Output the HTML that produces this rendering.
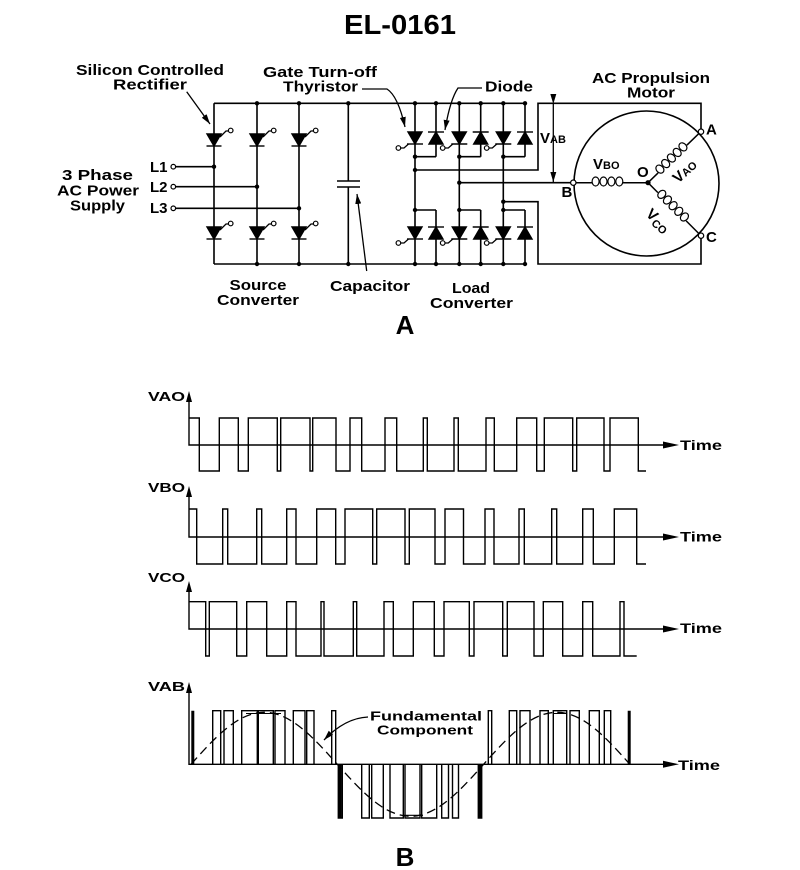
<!DOCTYPE html>
<html><head><meta charset="utf-8"><style>
html,body{margin:0;padding:0;background:#fff;}
svg{display:block;}
text{font-family:"Liberation Sans",Arial,sans-serif;font-weight:bold;fill:#000;}
</style></head><body>
<svg width="800" height="870" viewBox="0 0 800 870" xmlns="http://www.w3.org/2000/svg">
<defs>
<marker id="ah" viewBox="0 0 10 6" refX="10" refY="3" markerWidth="10" markerHeight="6" markerUnits="userSpaceOnUse" orient="auto"><path d="M0,0 L10,3 L0,6 z" fill="#000"/></marker>
</defs>
<rect width="800" height="870" fill="#fff"/>

<!-- Title -->
<text x="400" y="34" font-size="28" text-anchor="middle" textLength="112" lengthAdjust="spacingAndGlyphs">EL-0161</text>

<!-- ===== Circuit ===== -->
<g stroke="#000" stroke-width="1.6" fill="none">
  <path d="M214,103.3 H525 M214,264 H525 M214,103.3 V264"/>
  <line x1="257" y1="103.3" x2="257" y2="264"/>
  <line x1="299" y1="103.3" x2="299" y2="264"/>
  <path d="M348.3,103.3 V181 M348.3,187 V264"/>
  <path d="M337,181 H360 M337,187 H360"/>
  <path d="M175.6,166.7 H214 M175.6,186.7 H257 M175.6,208.3 H299"/>
  <path d="M415,103.3 V264 M459.3,103.3 V264 M503.3,103.3 V264"/>
  <path d="M436,103.3 V156.7 M480.7,103.3 V156.7 M525,103.3 V156.7"/>
  <path d="M436,210 V264 M480.7,210 V264 M525,210 V264"/>
  <path d="M415,156.7 H436 M459.3,156.7 H480.7 M503.3,156.7 H525"/>
  <path d="M415,210 H436 M459.3,210 H480.7 M503.3,210 H525"/>
  <path d="M415,170 H538 V103.3 H701 V129"/>
  <path d="M459.3,182.7 H570.6"/>
  <path d="M503.3,201.7 H538 V264 H701 V233"/>
  <circle cx="646.5" cy="183.5" r="72.5"/>
  <!-- VAB arrow -->
  <line x1="553.3" y1="104" x2="553.3" y2="182" marker-start="url(#ah)" marker-end="url(#ah)" stroke-width="1.3"/>
  <!-- pointer arrows -->
  <line x1="186.7" y1="91.7" x2="210" y2="124" stroke-width="1.3" marker-end="url(#ah)"/>
  <path d="M362,89 H387 Q398,96 405,127" stroke-width="1.3" marker-end="url(#ah)"/>
  <path d="M482,88 H458 Q450,100 445,130" stroke-width="1.3" marker-end="url(#ah)"/>
  <line x1="366.7" y1="271" x2="357" y2="194" stroke-width="1.3" marker-end="url(#ah)"/>
</g>

<!-- motor coils -->
<g stroke="#000" stroke-width="1.2" fill="none">
  <path d="M576,182.7 H592 M623,182.7 H648" stroke-width="1.5"/>
  <ellipse cx="595.6" cy="181.5" rx="3.5" ry="4.5"/>
  <ellipse cx="603.5" cy="181.5" rx="3.5" ry="4.5"/>
  <ellipse cx="611.4" cy="181.5" rx="3.5" ry="4.5"/>
  <ellipse cx="619.3" cy="181.5" rx="3.5" ry="4.5"/>
  <g transform="translate(648,182.7) rotate(-44)">
    <path d="M0,0 H14 M54,0 H70.5" stroke-width="1.5"/>
    <ellipse cx="18" cy="-1.5" rx="3.5" ry="4.5"/>
    <ellipse cx="26" cy="-1.5" rx="3.5" ry="4.5"/>
    <ellipse cx="34" cy="-1.5" rx="3.5" ry="4.5"/>
    <ellipse cx="42" cy="-1.5" rx="3.5" ry="4.5"/>
    <ellipse cx="50" cy="-1.5" rx="3.5" ry="4.5"/>
  </g>
  <g transform="translate(648,182.7) rotate(45)">
    <path d="M0,0 H14 M54,0 H72" stroke-width="1.5"/>
    <ellipse cx="18" cy="-1.5" rx="3.5" ry="4.5"/>
    <ellipse cx="26" cy="-1.5" rx="3.5" ry="4.5"/>
    <ellipse cx="34" cy="-1.5" rx="3.5" ry="4.5"/>
    <ellipse cx="42" cy="-1.5" rx="3.5" ry="4.5"/>
    <ellipse cx="50" cy="-1.5" rx="3.5" ry="4.5"/>
  </g>
</g>

<!-- SCRs -->
<g fill="#000" stroke="#000" stroke-width="1.4">
  <polygon points="207,134 221,134 214,146"/><line x1="206.5" y1="146" x2="221.5" y2="146"/>
  <polygon points="250,134 264,134 257,146"/><line x1="249.5" y1="146" x2="264.5" y2="146"/>
  <polygon points="292,134 306,134 299,146"/><line x1="291.5" y1="146" x2="306.5" y2="146"/>
  <polygon points="207,227 221,227 214,239"/><line x1="206.5" y1="239" x2="221.5" y2="239"/>
  <polygon points="250,227 264,227 257,239"/><line x1="249.5" y1="239" x2="264.5" y2="239"/>
  <polygon points="292,227 306,227 299,239"/><line x1="291.5" y1="239" x2="306.5" y2="239"/>
</g>
<g fill="none" stroke="#000" stroke-width="1.3">
  <polyline points="220,137 226,131 228.4,131"/>
  <polyline points="263,137 269,131 271.4,131"/>
  <polyline points="305,137 311,131 313.4,131"/>
  <polyline points="220,230 226,224 228.4,224"/>
  <polyline points="263,230 269,224 271.4,224"/>
  <polyline points="305,230 311,224 313.4,224"/>
</g>
<g fill="#fff" stroke="#000" stroke-width="1.2">
  <circle cx="230.7" cy="130.5" r="2.3"/>
  <circle cx="273.7" cy="130.5" r="2.3"/>
  <circle cx="315.7" cy="130.5" r="2.3"/>
  <circle cx="230.7" cy="223.5" r="2.3"/>
  <circle cx="273.7" cy="223.5" r="2.3"/>
  <circle cx="315.7" cy="223.5" r="2.3"/>
  <circle cx="173.3" cy="166.7" r="2.3"/>
  <circle cx="173.3" cy="186.7" r="2.3"/>
  <circle cx="173.3" cy="208.3" r="2.3"/>
</g>

<!-- GTOs and diodes -->
<g fill="#000" stroke="#000" stroke-width="1.4">
  <polygon points="408,132 422,132 415,144"/><line x1="407" y1="144" x2="423" y2="144"/>
  <polygon points="452.3,132 466.3,132 459.3,144"/><line x1="451.3" y1="144" x2="467.3" y2="144"/>
  <polygon points="496.3,132 510.3,132 503.3,144"/><line x1="495.3" y1="144" x2="511.3" y2="144"/>
  <polygon points="429,144 443,144 436,132"/><line x1="428" y1="132" x2="444" y2="132"/>
  <polygon points="473.7,144 487.7,144 480.7,132"/><line x1="472.7" y1="132" x2="488.7" y2="132"/>
  <polygon points="518,144 532,144 525,132"/><line x1="517" y1="132" x2="533" y2="132"/>
  <polygon points="408,227 422,227 415,239"/><line x1="407" y1="239" x2="423" y2="239"/>
  <polygon points="452.3,227 466.3,227 459.3,239"/><line x1="451.3" y1="239" x2="467.3" y2="239"/>
  <polygon points="496.3,227 510.3,227 503.3,239"/><line x1="495.3" y1="239" x2="511.3" y2="239"/>
  <polygon points="429,239 443,239 436,227"/><line x1="428" y1="227" x2="444" y2="227"/>
  <polygon points="473.7,239 487.7,239 480.7,227"/><line x1="472.7" y1="227" x2="488.7" y2="227"/>
  <polygon points="518,239 532,239 525,227"/><line x1="517" y1="227" x2="533" y2="227"/>
</g>
<g fill="none" stroke="#000" stroke-width="1.3">
  <polyline points="400.7,148 404,148 408.5,144"/>
  <polyline points="445,148 448.3,148 452.8,144"/>
  <polyline points="489,148 492.3,148 496.8,144"/>
  <polyline points="400.7,243 404,243 408.5,239"/>
  <polyline points="445,243 448.3,243 452.8,239"/>
  <polyline points="489,243 492.3,243 496.8,239"/>
</g>
<g fill="#fff" stroke="#000" stroke-width="1.2">
  <circle cx="398.4" cy="148" r="2.3"/>
  <circle cx="442.7" cy="148" r="2.3"/>
  <circle cx="486.7" cy="148" r="2.3"/>
  <circle cx="398.4" cy="243" r="2.3"/>
  <circle cx="442.7" cy="243" r="2.3"/>
  <circle cx="486.7" cy="243" r="2.3"/>
  <circle cx="701" cy="131.7" r="2.7"/>
  <circle cx="701" cy="235.7" r="2.7"/>
  <circle cx="573.3" cy="182.7" r="2.7"/>
</g>

<!-- junction dots -->
<g fill="#000">
  <circle cx="257" cy="103.3" r="2.2"/><circle cx="299" cy="103.3" r="2.2"/><circle cx="348.3" cy="103.3" r="2.2"/>
  <circle cx="257" cy="264" r="2.2"/><circle cx="299" cy="264" r="2.2"/><circle cx="348.3" cy="264" r="2.2"/>
  <circle cx="214" cy="166.7" r="2.2"/><circle cx="257" cy="186.7" r="2.2"/><circle cx="299" cy="208.3" r="2.2"/>
  <circle cx="415" cy="103.3" r="2.2"/><circle cx="436" cy="103.3" r="2.2"/><circle cx="459.3" cy="103.3" r="2.2"/>
  <circle cx="480.7" cy="103.3" r="2.2"/><circle cx="503.3" cy="103.3" r="2.2"/><circle cx="525" cy="103.3" r="2.2"/>
  <circle cx="415" cy="264" r="2.2"/><circle cx="436" cy="264" r="2.2"/><circle cx="459.3" cy="264" r="2.2"/>
  <circle cx="480.7" cy="264" r="2.2"/><circle cx="503.3" cy="264" r="2.2"/><circle cx="525" cy="264" r="2.2"/>
  <circle cx="415" cy="156.7" r="2.2"/><circle cx="459.3" cy="156.7" r="2.2"/><circle cx="503.3" cy="156.7" r="2.2"/>
  <circle cx="415" cy="210" r="2.2"/><circle cx="459.3" cy="210" r="2.2"/><circle cx="503.3" cy="210" r="2.2"/>
  <circle cx="415" cy="170" r="2.2"/><circle cx="459.3" cy="182.7" r="2.2"/><circle cx="503.3" cy="201.7" r="2.2"/>
  <circle cx="648" cy="182.7" r="2.6"/>
</g>

<!-- circuit labels -->
<g font-size="15" text-anchor="middle">
  <text x="150" y="75" textLength="148" lengthAdjust="spacingAndGlyphs">Silicon Controlled</text>
  <text x="150" y="89.5" textLength="74" lengthAdjust="spacingAndGlyphs">Rectifier</text>
  <text x="320" y="77" textLength="114" lengthAdjust="spacingAndGlyphs">Gate Turn-off</text>
  <text x="320.5" y="91.5" textLength="75" lengthAdjust="spacingAndGlyphs">Thyristor</text>
  <text x="509" y="91.5" textLength="48" lengthAdjust="spacingAndGlyphs">Diode</text>
  <text x="651" y="83" textLength="118" lengthAdjust="spacingAndGlyphs">AC Propulsion</text>
  <text x="651" y="97.5" textLength="48" lengthAdjust="spacingAndGlyphs">Motor</text>
  <text x="97.5" y="180" textLength="71" lengthAdjust="spacingAndGlyphs">3  Phase</text>
  <text x="98" y="195.5" textLength="82" lengthAdjust="spacingAndGlyphs">AC Power</text>
  <text x="97.5" y="210.5" textLength="55" lengthAdjust="spacingAndGlyphs">Supply</text>
  <text x="258" y="290" textLength="57" lengthAdjust="spacingAndGlyphs">Source</text>
  <text x="258" y="305" textLength="82" lengthAdjust="spacingAndGlyphs">Converter</text>
  <text x="370" y="291" textLength="80" lengthAdjust="spacingAndGlyphs">Capacitor</text>
  <text x="471" y="293" textLength="38" lengthAdjust="spacingAndGlyphs">Load</text>
  <text x="471.5" y="308" textLength="83" lengthAdjust="spacingAndGlyphs">Converter</text>
</g>
<g font-size="15">
  <text x="150" y="172">L1</text>
  <text x="150" y="192">L2</text>
  <text x="150" y="213">L3</text>
  <text x="540" y="143">V<tspan font-size="11">AB</tspan></text>
  <text x="593" y="169">V<tspan font-size="11">BO</tspan></text>
  <text x="637" y="177">O</text>
  <text x="706" y="134.5">A</text>
  <text x="706" y="242">C</text>
  <text x="561.5" y="197">B</text>
  <text transform="translate(688,175) rotate(-42)" text-anchor="middle">V<tspan font-size="11">AO</tspan></text>
  <text transform="translate(655,224) rotate(42)" text-anchor="middle">V<tspan font-size="11" dy="3">CO</tspan></text>
</g>
<text x="405" y="334" font-size="26" text-anchor="middle">A</text>

<!-- ===== Waveforms ===== -->
<g stroke="#000" stroke-width="1.4" fill="none">
  <path d="M189,398 V445 H666"/>
  <path d="M189,493 V537 H666"/>
  <path d="M189,588 V629 H666"/>
  <path d="M189,689 V764.3 H666"/>
  <path d="M189,418 H199.3 V471 H219.3 V418 H238.3 V471 H248.3 V418 H277.3 V471 H280.7 V418 H310 V471 H312.7 V418 H336 V471 H350 V418 H361.7 V471 H385 V418 H396.7 V471 H423.3 V418 H427.3 V471 H454 V418 H458.3 V471 H486 V418 H494.3 V471 H516.7 V418 H536.7 V471 H544.3 V418 H572.7 V471 H576.7 V418 H604 V471 H610 V418 H638.3 V471 H646"/>
  <path d="M189,509 H196.7 V564 H222.7 V509 H227.7 V564 H256.7 V509 H261.7 V564 H286.7 V509 H296 V564 H316.7 V509 H335.7 V564 H345 V509 H372.7 V564 H376.7 V509 H405 V564 H409.3 V509 H435 V564 H445 V509 H463.5 V564 H485 V509 H494 V564 H519 V509 H524.3 V564 H551.7 V509 H556.7 V564 H582.7 V509 H593.3 V564 H614.3 V509 H636.7 V564 H646"/>
  <path d="M189,601.7 H205.7 V656 H209.3 V601.7 H236.7 V656 H246.7 V601.7 H266.7 V656 H286.7 V601.7 H296 V656 H321 V601.7 H324 V656 H353.3 V601.7 H356.7 V656 H384 V601.7 H393.3 V656 H413.3 V601.7 H434.3 V656 H444 V601.7 H469.3 V656 H474 V601.7 H502.7 V656 H507.3 V601.7 H534 V656 H543.3 V601.7 H562.7 V656 H582.7 V601.7 H592.7 V656 H620 V601.7 H624 V656 H636.7"/>
  <path d="M212.7,764.3 V710.7 H220.7 V764.3 M224,764.3 V710.7 H233.3 V764.3 M241.7,764.3 V710.7 H257.3 V764.3 M258.3,764.3 V710.7 H273.3 V764.3 M275,764.3 V710.7 H285 V764.3 M293.3,764.3 V710.7 H305 V764.3 M306.7,764.3 V710.7 H314 V764.3 M331.7,764.3 V710.7 H335.7 V764.3"/>
  <path d="M488.3,764.3 V710.7 H491.7 V764.3 M509.3,764.3 V710.7 H516.7 V764.3 M520,764.3 V710.7 H530 V764.3 M540,764.3 V710.7 H548.3 V764.3 M553.3,764.3 V710.7 H566.7 V764.3 M570,764.3 V710.7 H579.3 V764.3 M589.3,764.3 V710.7 H599.3 V764.3 M604.3,764.3 V710.7 H610.7 V764.3"/>
  <path d="M338.3,764.3 V818 H342.3 V764.3 M361.7,764.3 V818 H369.3 V764.3 M371.7,764.3 V818 H383.3 V764.3 M390,764.3 V818 H403.3 V764.3 M405,764.3 V818 H420 V764.3 M421.7,764.3 V818 H436.7 V764.3 M441.7,764.3 V818 H448.5 V764.3 M452.5,764.3 V818 H458.5 V764.3 M478.3,764.3 V818 H481.7 V764.3"/>
  <path d="M246,713.5 H281 M403,815.3 H423 M553.3,713.5 H567" stroke-width="1.1"/>
  <path d="M192.8,764.3 V710.7 M629.2,764.3 V710.7 M340.3,764.3 V818 M480,764.3 V818" stroke-width="3"/>
  <path d="M191,764.3 C214.8,737.7 237.7,712.3 264.2,712.3 C290.7,712.3 313.5,737.7 337.3,764.3 C361.1,790.9 384,816.3 410.5,816.3 C437,816.3 459.8,790.9 483.6,764.3 C507.4,737.7 530.3,712.3 556.8,712.3 C583.3,712.3 606.1,737.7 629.9,764.3" stroke-dasharray="9,5" stroke-width="1.3"/>
  <path d="M368,717 Q345,718 324,740" stroke-width="1.3" marker-end="url(#ah)"/>
</g>
<g fill="#000">
  <polygon points="186,402 192,402 189,391"/>
  <polygon points="186,497 192,497 189,486"/>
  <polygon points="186,592 192,592 189,581"/>
  <polygon points="186,693 192,693 189,682"/>
  <polygon points="663,441.5 679,445 663,448.5"/>
  <polygon points="663,533.5 679,537 663,540.5"/>
  <polygon points="663,625.5 679,629 663,632.5"/>
  <polygon points="663,760.8 679,764.3 663,767.8"/>
</g>
<g font-size="13">
  <text x="148" y="401" textLength="37" lengthAdjust="spacingAndGlyphs">VAO</text>
  <text x="148" y="492" textLength="37" lengthAdjust="spacingAndGlyphs">VBO</text>
  <text x="148" y="582" textLength="37" lengthAdjust="spacingAndGlyphs">VCO</text>
  <text x="148" y="691" textLength="37" lengthAdjust="spacingAndGlyphs">VAB</text>
</g>
<g font-size="14">
  <text x="680" y="450" textLength="42" lengthAdjust="spacingAndGlyphs">Time</text>
  <text x="680" y="541.5" textLength="42" lengthAdjust="spacingAndGlyphs">Time</text>
  <text x="680" y="633" textLength="42" lengthAdjust="spacingAndGlyphs">Time</text>
  <text x="678" y="770" textLength="42" lengthAdjust="spacingAndGlyphs">Time</text>
</g>
<g font-size="13" text-anchor="middle">
  <text x="426" y="720.5" textLength="112" lengthAdjust="spacingAndGlyphs">Fundamental</text>
  <text x="425" y="734.5" textLength="96" lengthAdjust="spacingAndGlyphs">Component</text>
</g>
<text x="405" y="866" font-size="26" text-anchor="middle">B</text>
</svg>
</body></html>
